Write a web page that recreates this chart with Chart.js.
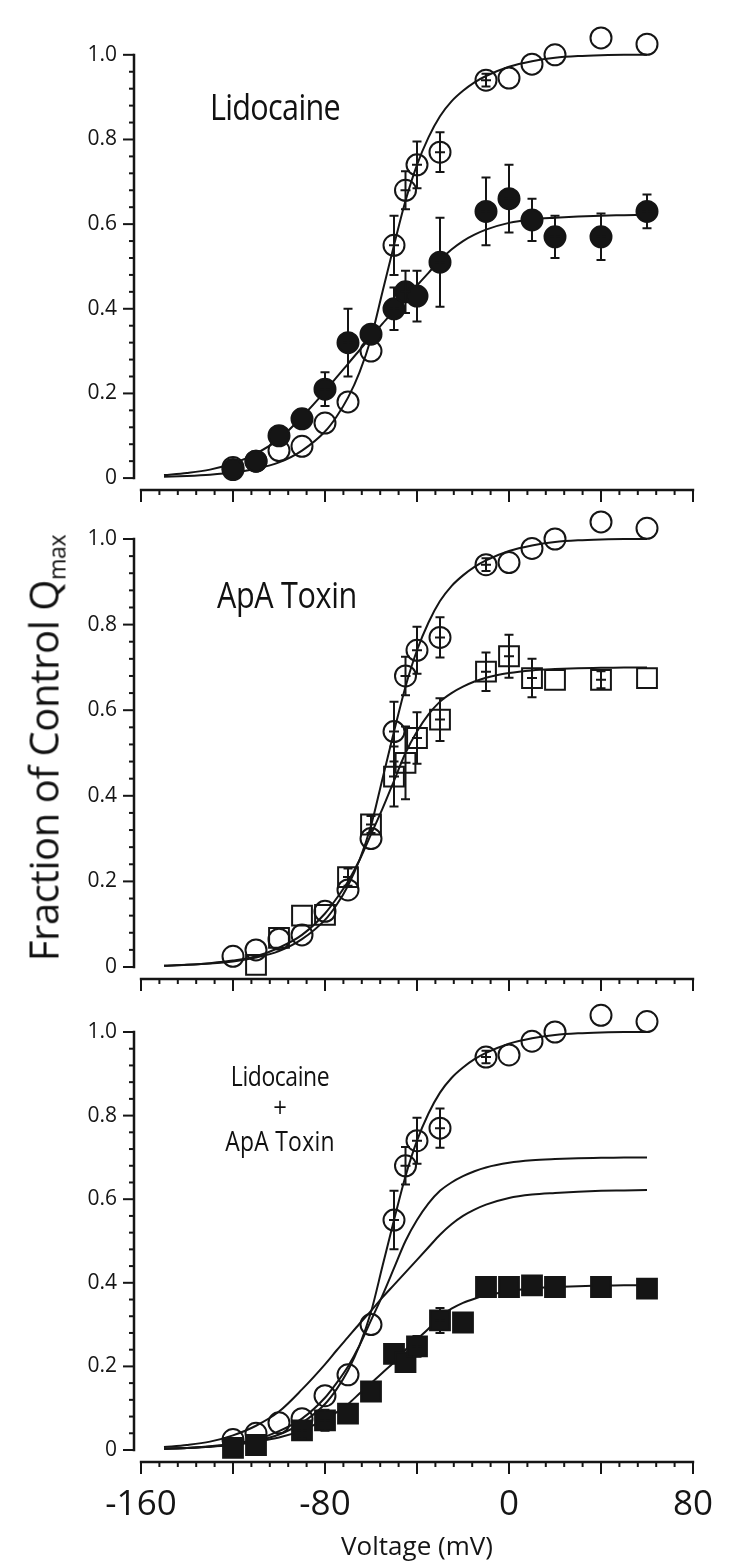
<!DOCTYPE html>
<html>
<head>
<meta charset="utf-8">
<script src="https://cdn.jsdelivr.net/npm/chart.js@4.4.1/dist/chart.umd.min.js"></script>
<style>
  body { margin: 0; background: #fff; }
  #wrap { position: relative; width: 729px; height: 1566px; font-family: "Open Sans", sans-serif; color: #111; }
  canvas { position: absolute; left: 0; top: 0; }
  .lbl { position: absolute; white-space: nowrap; transform: translate(-50%, -50%) scaleX(0.85); line-height: 1; }
  #ytitle { position: absolute; left: 44px; top: 748px; white-space: nowrap; font-size: 40px; letter-spacing: -0.4px;
            transform: translate(-50%, -50%) rotate(-90deg); }
  #ytitle sub { font-size: 58%; vertical-align: -0.3em; }
</style>
</head>
<body>
<div id="wrap">
  <canvas id="p1" width="729" height="1566"></canvas>
  <canvas id="p2" width="729" height="1566"></canvas>
  <canvas id="p3" width="729" height="1566"></canvas>
  <div class="lbl" style="left:275px; top:107px; font-size:36px; letter-spacing:-0.8px;">Lidocaine</div>
  <div class="lbl" style="left:287px; top:595px; font-size:36px; letter-spacing:-0.4px;">ApA Toxin</div>
  <div class="lbl" style="left:280px; top:1075px; font-size:27px; letter-spacing:-0.5px;">Lidocaine</div>
  <div class="lbl" style="left:280px; top:1106px; font-size:28px;">+</div>
  <div class="lbl" style="left:280px; top:1140px; font-size:27px; letter-spacing:0.3px;">ApA Toxin</div>
  <div id="ytitle">Fraction of Control Q<sub>max</sub></div>
</div>
<script>
// tick labels
const xTickVals = [-160, -80, 0, 80];
const xTickLabels = ['-160', '-80', '0', '80'];
const yTickVals = [0, 0.2, 0.4, 0.6, 0.8, 1.0];
const yTickLabels = ['0', '0.2', '0.4', '0.6', '0.8', '1.0'];

// voltages (mV)
const dataVolt = [-120, -110, -100, -90, -80, -70, -60, -50, -45, -40, -30, -10, 0, 10, 20, 40, 60];
const apaVolt = [-110, -100, -90, -80, -70, -60, -50, -45, -40, -30, -10, 0, 10, 20, 40, 60];
const comboVolt = [-120, -110, -90, -80, -70, -60, -50, -45, -40, -30, -20, -10, 0, 10, 20, 40, 60];
const fitVolt = [-150, -140, -130, -120, -110, -100, -90, -80, -75, -70, -65, -60, -55, -50, -45, -40,
                 -35, -30, -25, -20, -15, -10, 0, 10, 20, 30, 40, 50, 60];

// control (open circles)
const control = [0.025, 0.04, 0.065, 0.075, 0.13, 0.18, 0.30, 0.55, 0.68, 0.74, 0.77, 0.94, 0.945, 0.978, 1.0, 1.04, 1.025];
const controlErr = [0, 0, 0, 0, 0, 0, 0, 0.07, 0.045, 0.055, 0.047, 0.015, 0, 0, 0, 0, 0];

// lidocaine (filled circles)
const lido = [0.02, 0.04, 0.10, 0.14, 0.21, 0.32, 0.34, 0.40, 0.44, 0.43, 0.51, 0.63, 0.66, 0.61, 0.57, 0.57, 0.63];
const lidoErr = [0, 0, 0, 0, 0.04, 0.08, 0, 0.05, 0.05, 0.06, 0.105, 0.08, 0.08, 0.05, 0.05, 0.055, 0.04];

// ApA toxin (open squares)
const apa = [0.005, 0.068, 0.12, 0.122, 0.21, 0.333, 0.445, 0.477, 0.535, 0.578, 0.69, 0.726, 0.675, 0.671, 0.671, 0.675];
const apaErr = [0, 0, 0, 0, 0.02, 0.02, 0.07, 0.085, 0.06, 0.05, 0.045, 0.05, 0.045, 0, 0.02, 0];

// lidocaine + ApA toxin (filled squares)
const combo = [0.005, 0.012, 0.047, 0.071, 0.087, 0.14, 0.23, 0.21, 0.248, 0.31, 0.305, 0.39, 0.39, 0.394, 0.39, 0.39, 0.386];
const comboErr = [0, 0, 0.02, 0.025, 0, 0, 0, 0, 0.025, 0.03, 0, 0, 0, 0, 0, 0, 0];

// fitted curves
const controlFit = [0.003, 0.005, 0.008, 0.013, 0.022, 0.037, 0.065, 0.11, 0.145, 0.19, 0.25, 0.33, 0.44, 0.55, 0.655,
                    0.74, 0.805, 0.855, 0.89, 0.915, 0.935, 0.95, 0.972, 0.985, 0.993, 0.997, 0.999, 1.0, 1.0];
const lidoFit = [0.007, 0.012, 0.02, 0.035, 0.058, 0.092, 0.145, 0.205, 0.238, 0.27, 0.302, 0.333, 0.365, 0.395, 0.425,
                 0.455, 0.485, 0.515, 0.54, 0.56, 0.575, 0.587, 0.603, 0.611, 0.615, 0.618, 0.62, 0.621, 0.622];
const apaFit = [0.003, 0.005, 0.009, 0.015, 0.025, 0.045, 0.075, 0.125, 0.16, 0.2, 0.25, 0.31, 0.37, 0.435, 0.5,
                0.55, 0.59, 0.62, 0.64, 0.655, 0.667, 0.676, 0.687, 0.693, 0.696, 0.698, 0.699, 0.7, 0.7];
const comboFit = [0.003, 0.005, 0.008, 0.012, 0.02, 0.03, 0.047, 0.073, 0.09, 0.11, 0.135, 0.16, 0.185, 0.21, 0.24,
                  0.265, 0.29, 0.32, 0.338, 0.352, 0.362, 0.37, 0.38, 0.387, 0.39, 0.392, 0.393, 0.394, 0.394];

const ink = '#151515';
const fontFam = '"Open Sans", sans-serif';

function pts(xs, ys) {
    return xs.map((x, i) => ({ x: x, y: ys[i] }));
}

function curve(ys) {
    return {
        data: pts(fitVolt, ys),
        showLine: true,
        borderColor: ink,
        borderWidth: 2,
        pointRadius: 0,
        cubicInterpolationMode: 'monotone',
        fill: false,
        clip: false
    };
}

function markers(xs, ys, errs, style, filled) {
    return {
        data: pts(xs, ys),
        showLine: false,
        pointStyle: style,
        pointRadius: style === 'rect' ? 14 : 10.5,
        pointBorderWidth: 2,
        pointBorderColor: ink,
        pointBackgroundColor: filled ? ink : 'rgba(255,255,255,0)',
        errors: errs,
        clip: false
    };
}

// axis lines with major and minor tick marks
const axesPlugin = {
    id: 'axesPlugin',
    afterDraw(chart) {
        const { ctx, chartArea, scales: { x, y } } = chart;
        ctx.save();
        ctx.strokeStyle = ink;
        ctx.lineWidth = 2.5;
        const ax = chartArea.left - 7;
        ctx.beginPath();
        ctx.moveTo(ax, y.getPixelForValue(0) + 1.2);
        ctx.lineTo(ax, y.getPixelForValue(1.0) - 1.2);
        ctx.stroke();
        ctx.lineWidth = 2;
        for (let i = 0; i <= 25; i++) {
            const py = y.getPixelForValue(i * 0.04);
            const len = i % 5 === 0 ? 11 : 5;
            ctx.beginPath();
            ctx.moveTo(ax - len, py);
            ctx.lineTo(ax, py);
            ctx.stroke();
        }
        const by = chartArea.bottom;
        ctx.lineWidth = 2.5;
        ctx.beginPath();
        ctx.moveTo(x.getPixelForValue(-160) - 1.2, by);
        ctx.lineTo(x.getPixelForValue(80) + 1.2, by);
        ctx.stroke();
        ctx.lineWidth = 2;
        for (let v = -160; v <= 80; v += 8) {
            const px = x.getPixelForValue(v);
            const len = v % 40 === 0 ? 12 : 5;
            ctx.beginPath();
            ctx.moveTo(px, by);
            ctx.lineTo(px, by + len);
            ctx.stroke();
        }
        ctx.restore();
    }
};

// vertical error bars with caps
const errorBarPlugin = {
    id: 'errorBars',
    afterDatasetsDraw(chart) {
        const { ctx, scales: { x, y } } = chart;
        ctx.save();
        ctx.strokeStyle = ink;
        ctx.lineWidth = 2;
        chart.data.datasets.forEach(ds => {
            if (!ds.errors) return;
            ds.data.forEach((p, i) => {
                const e = ds.errors[i];
                if (!e) return;
                const px = x.getPixelForValue(p.x);
                const top = y.getPixelForValue(p.y + e);
                const bot = y.getPixelForValue(p.y - e);
                const py = y.getPixelForValue(p.y);
                ctx.beginPath();
                ctx.moveTo(px, top); ctx.lineTo(px, bot);
                ctx.moveTo(px - 4.5, top); ctx.lineTo(px + 4.5, top);
                ctx.moveTo(px - 4.5, bot); ctx.lineTo(px + 4.5, bot);
                ctx.moveTo(px - 5, py); ctx.lineTo(px + 5, py);
                ctx.stroke();
            });
        });
        ctx.restore();
    }
};

function makePanel(id, geom, datasets, showX) {
    const k = geom.y0 - geom.y1;
    const yMin = -(geom.axis - geom.y0) / k;
    const top = geom.y1 - 0.1 * k;
    const xHeight = showX ? 104 : 20;
    return new Chart(document.getElementById(id), {
        type: 'scatter',
        data: { datasets: datasets },
        options: {
            responsive: false,
            animation: false,
            events: [],
            layout: { padding: { left: 41, right: 36, top: top, bottom: 1566 - geom.axis - xHeight } },
            plugins: { legend: { display: false }, tooltip: { enabled: false } },
            scales: {
                x: {
                    type: 'linear',
                    min: -160,
                    max: 80,
                    grid: { display: false, drawTicks: false },
                    border: { display: false },
                    afterFit: s => { s.height = xHeight; s.paddingLeft = 0; s.paddingRight = 0; },
                    afterBuildTicks: s => { s.ticks = showX ? xTickVals.map(v => ({ value: v })) : []; },
                    ticks: {
                        display: showX,
                        padding: 22,
                        maxRotation: 0,
                        autoSkip: false,
                        color: ink,
                        font: { family: fontFam, size: 35 },
                        callback: (v, i) => xTickLabels[i]
                    },
                    title: {
                        display: showX,
                        text: 'Voltage (mV)',
                        color: ink,
                        font: { family: fontFam, size: 26 },
                        padding: { top: 4, bottom: 3 }
                    }
                },
                y: {
                    min: yMin,
                    max: 1.1,
                    grid: { display: false, drawTicks: false },
                    border: { display: false },
                    afterFit: s => { s.width = 100; s.paddingTop = 0; s.paddingBottom = 0; },
                    afterBuildTicks: s => { s.ticks = yTickVals.map(v => ({ value: v })); },
                    ticks: {
                        padding: 24,
                        color: ink,
                        font: { family: fontFam, size: 21 },
                        callback: (v, i) => yTickLabels[i]
                    }
                }
            }
        },
        plugins: [axesPlugin, errorBarPlugin]
    });
}

makePanel('p1', { y1: 52, y0: 478, axis: 490 }, [
    markers(dataVolt, lido, lidoErr, 'circle', true),
    markers(dataVolt, control, controlErr, 'circle', false),
    curve(controlFit),
    curve(lidoFit)
], false);

makePanel('p2', { y1: 539, y0: 967, axis: 979 }, [
    markers(apaVolt, apa, apaErr, 'rect', false),
    markers(dataVolt, control, controlErr, 'circle', false),
    curve(controlFit),
    curve(apaFit)
], false);

makePanel('p3', { y1: 1032, y0: 1450, axis: 1462 }, [
    markers(comboVolt, combo, comboErr, 'rect', true),
    markers(dataVolt, control, controlErr, 'circle', false),
    curve(controlFit),
    curve(apaFit),
    curve(lidoFit),
    curve(comboFit)
], true);
</script>
</body>
</html>
